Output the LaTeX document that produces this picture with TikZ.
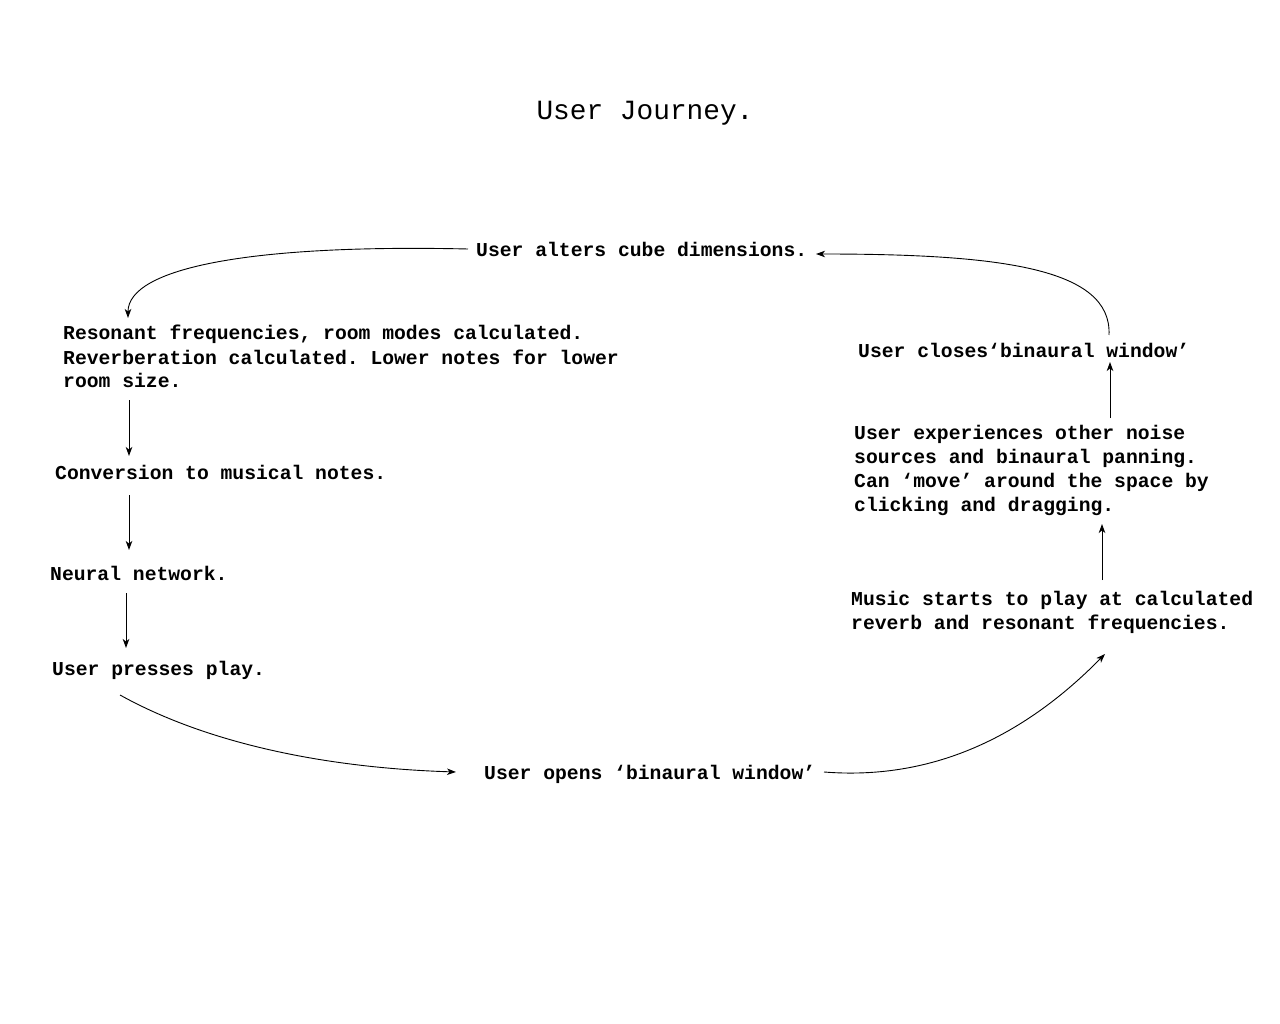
\documentclass[tikz,border=0pt]{standalone}
\usepackage{fontspec}
\setmainfont{Liberation Mono}
\usetikzlibrary{arrows.meta}
\tikzset{
  txt/.style={inner sep=0pt, anchor=base west, align=left, font=\bfseries\frenchspacing\fontsize{19.7}{24}\selectfont},
  conn/.style={line width=0.9pt, -{Stealth[length=9pt,width=6.5pt,inset=2.5pt]}}
}
\begin{document}
\begin{tikzpicture}[x=1pt,y=-1pt]
\useasboundingbox (0,0) rectangle (1280,1024);
\node[inner sep=0pt, anchor=base, font=\fontsize{27.8}{32}\selectfont] (title) at (645,120) {User Journey.};
\node[txt] (alter) at (476,257) {User alters cube dimensions.};
\node[txt] (res) at (63,388) {Resonant frequencies, room modes calculated.\\Reverberation calculated. Lower notes for lower\\room size.};
\node[txt] (conv) at (55,479) {Conversion to musical notes.};
\node[txt] (neural) at (50,580) {Neural network.};
\node[txt] (press) at (52,675) {User presses play.};
\node[txt] (opens) at (484,779) {User opens ‘binaural window’};
\node[txt] (music) at (851,629) {Music starts to play at calculated\\reverb and resonant frequencies.};
\node[txt] (exper) at (854,511) {User experiences other noise\\sources and binaural panning.\\Can ‘move’ around the space by\\clicking and dragging.};
\node[txt] (closes) at (858,357) {User closes‘binaural window’};

\coordinate (a1) at (468,249);
\coordinate (a2) at (128,318);
\draw[conn] (a1) .. controls (250,244) and (128,268) .. (a2);
\coordinate (b1) at (129,400);
\coordinate (b2) at (129,456);
\draw[conn] (b1) -- (b2);
\coordinate (c1) at (129,495);
\coordinate (c2) at (129,550);
\draw[conn] (c1) -- (c2);
\coordinate (d1) at (126,593);
\coordinate (d2) at (126,648);
\draw[conn] (d1) -- (d2);
\coordinate (e1) at (120,695);
\coordinate (e2) at (456,772);
\draw[conn] (e1) .. controls (210,745) and (330,768) .. (e2);
\coordinate (f1) at (824,772);
\coordinate (f2) at (1105,654);
\draw[conn] (f1) .. controls (950,782) and (1040,720) .. (f2);
\coordinate (g1) at (1102,580);
\coordinate (g2) at (1102,524);
\draw[conn] (g1) -- (g2);
\coordinate (h1) at (1110,418);
\coordinate (h2) at (1110,362);
\draw[conn] (h1) -- (h2);
\coordinate (i1) at (1109,335);
\coordinate (i2) at (816,254);
\draw[conn] (i1) .. controls (1112,268) and (1000,254) .. (i2);
\end{tikzpicture}
\end{document}
